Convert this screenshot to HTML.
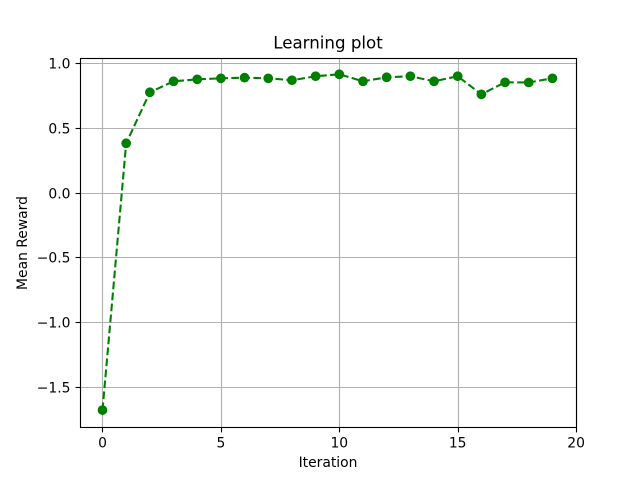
<!DOCTYPE html>
<html>
<head>
<meta charset="utf-8">
<style>
html,body{margin:0;padding:0;background:#fff;}
svg{display:block;}
text{font-family:"DejaVu Sans","Liberation Sans",sans-serif;fill:#000;}
</style>
</head>
<body>
<svg id="chart" width="640" height="480" viewBox="0 0 640 480" xmlns="http://www.w3.org/2000/svg">
  <rect x="0" y="0" width="640" height="480" fill="#fff"/>
  <text x="328" y="48.5" text-anchor="middle" font-size="16.67">Learning plot</text>
  <text x="328" y="467" text-anchor="middle" font-size="13.89">Iteration</text>
  <text x="0" y="0" transform="translate(27,243) rotate(-90)" text-anchor="middle" font-size="13.89">Mean Reward</text>
  <g id="grid"></g>
  <g id="series"></g>
  <g id="ticks"></g>
  <rect x="80.5" y="58.5" width="496" height="369" fill="none" stroke="#000" stroke-width="1.11"/>
</svg>
<script>
const iterations = [0,1,2,3,4,5,6,7,8,9,10,11,12,13,14,15,16,17,18,19];
const meanReward = [-1.68,0.382,0.776,0.861,0.876,0.884,0.889,0.884,0.869,0.90,0.915,0.861,0.892,0.90,0.861,0.90,0.76,0.853,0.852,0.884];
const xTicks = [0,5,10,15,20];
const yTicks = [-1.5,-1.0,-0.5,0.0,0.5,1.0];
const xDomain = [-0.95,19.996];
const yDomain = [-1.812,1.044];

const NS = 'http://www.w3.org/2000/svg';
const plotLeft = 80, plotRight = 576, plotTop = 57.6, plotBottom = 427.2;
function xScale(v){ return plotLeft + (v - xDomain[0]) / (xDomain[1] - xDomain[0]) * (plotRight - plotLeft); }
function yScale(v){ return plotBottom - (v - yDomain[0]) / (yDomain[1] - yDomain[0]) * (plotBottom - plotTop); }
function snap(v){ return Math.round(v) + 0.5; }
function make(tag, attrs, parent){
  const el = document.createElementNS(NS, tag);
  for (const k in attrs) el.setAttribute(k, attrs[k]);
  parent.appendChild(el);
  return el;
}
const grid = document.getElementById('grid');
const ticks = document.getElementById('ticks');
const series = document.getElementById('series');

xTicks.forEach(function(t){
  const x = snap(xScale(t));
  const g = make('line', {x1:x, x2:x, y1:58, y2:427, stroke:'#b0b0b0', 'stroke-width':1.11}, grid);
  
  
  const m = make('line', {x1:x, x2:x, y1:427.5, y2:432.4, stroke:'#000', 'stroke-width':1.11}, ticks);
  
  
  const l = make('text', {x:xScale(t), y:447.5, 'text-anchor':'middle', 'font-size':13.89}, ticks);
  
  
  l.textContent = String(t);
});

yTicks.forEach(function(t){
  const y = snap(yScale(t));
  const g = make('line', {x1:80, x2:576, y1:y, y2:y, stroke:'#b0b0b0', 'stroke-width':1.11}, grid);
  
  
  const m = make('line', {x1:75.6, x2:80.5, y1:y, y2:y, stroke:'#000', 'stroke-width':1.11}, ticks);
  
  
  const l = make('text', {x:70.5, y:y + 5, 'text-anchor':'end', 'font-size':13.89}, ticks);
  
  
  l.textContent = t.toFixed(1).replace('-', '\u2212');
});

const pts = iterations.map(function(it, i){ return xScale(it).toFixed(2) + ',' + yScale(meanReward[i]).toFixed(2); }).join(' ');
const line = make('polyline', {points:pts, fill:'none', stroke:'#008000', 'stroke-width':2.08, 'stroke-dasharray':'7.7 3.33'}, series);



iterations.forEach(function(it, i){
  const c = make('circle', {cx:xScale(it), cy:yScale(meanReward[i]), r:4.86, fill:'#008000'}, series);
  
  
});
</script>
</body>
</html>
